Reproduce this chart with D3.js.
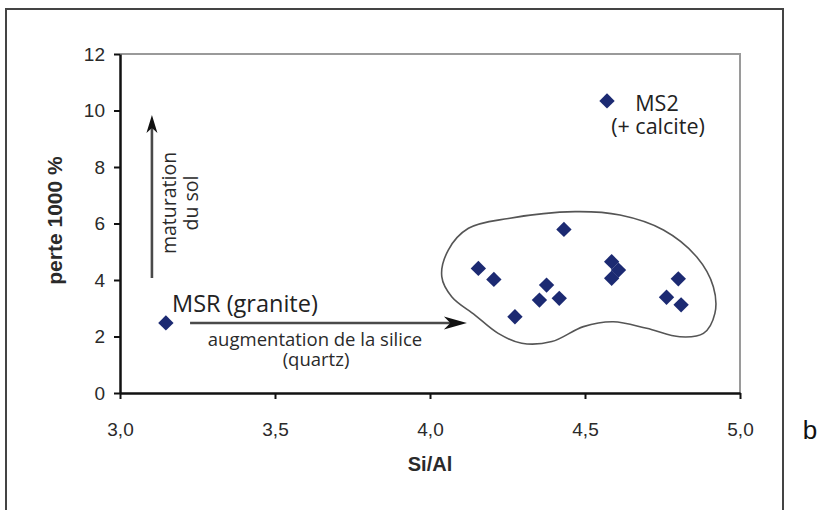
<!DOCTYPE html>
<html>
<head>
<meta charset="utf-8">
<script src="https://cdn.jsdelivr.net/npm/d3@7"></script>
<style>
  html, body { margin: 0; padding: 0; background: #fff; }
  svg { display: block; }
</style>
</head>
<body>
<svg id="chart" width="820" height="510"></svg>
<script>
// Si/Al ratio vs. loss on ignition (perte 1000 %)
const xTicks = [3.0, 3.5, 4.0, 4.5, 5.0];
const yTicks = [0, 2, 4, 6, 8, 10, 12];

// Reference granite sample and calcite-bearing sample
const msr = [{ x: 3.148, y: 2.48 }];
const ms2 = [{ x: 4.571, y: 10.34 }];

// Soil samples grouped in the silica-enriched cluster
const clusterSiAl = [4.156, 4.206, 4.432, 4.376, 4.353, 4.417, 4.274, 4.586, 4.608, 4.586, 4.801, 4.763, 4.810];
const clusterLoss = [4.41, 4.02, 5.79, 3.82, 3.29, 3.35, 2.70, 4.65, 4.35, 4.06, 4.04, 3.39, 3.12];

// Closed envelope drawn around the cluster (Si/Al, perte)
const envelopeSiAl = [4.038, 4.059, 4.124, 4.253, 4.468, 4.613, 4.753, 4.860, 4.914, 4.919, 4.882, 4.806, 4.699, 4.591, 4.495, 4.393, 4.296, 4.220, 4.145, 4.070];
const envelopeLoss = [4.12, 5.06, 5.83, 6.18, 6.42, 6.30, 5.77, 4.82, 3.76, 2.82, 2.11, 1.99, 2.29, 2.52, 2.35, 1.82, 1.76, 2.11, 2.76, 3.41];

const svg = d3.select("#chart");

const x = d3.scaleLinear().domain([3.0, 5.0]).range([120, 740]);
const y = d3.scaleLinear().domain([0, 12]).range([393, 54]);

const fmt = d => d3.format(".1f")(d).replace(".", ",");

// outer figure frame (open at the bottom)
svg.append("path")
  .attr("d", "M6,515 V9 H783 V515")
  .attr("fill", "none")
  .attr("stroke", "#444")
  .attr("stroke-width", 2);

// panel letter
svg.append("text")
  .attr("x", 810).attr("y", 439)
  .attr("text-anchor", "middle")
  .attr("font-family", "Liberation Sans, Arial, sans-serif")
  .attr("font-size", 26)
  .attr("fill", "#111")
  .text("b");

// plot area top/right border
svg.append("path")
  .attr("d", `M${x(3.0)},${y(12)} H${x(5.0)} V${y(0)}`)
  .attr("fill", "none")
  .attr("stroke", "#9a9a9a")
  .attr("stroke-width", 2);

// axes
const xAxis = d3.axisBottom(x).tickValues(xTicks).tickFormat(fmt).tickSize(6).tickSizeOuter(0).tickPadding(24);
const yAxis = d3.axisLeft(y).tickValues(yTicks).tickFormat(d3.format("d")).tickSize(6).tickSizeOuter(0).tickPadding(9);

const gx = svg.append("g").attr("transform", `translate(0,${y(0)})`).call(xAxis);
const gy = svg.append("g").attr("transform", `translate(${x(3.0)},0)`).call(yAxis);

[gx, gy].forEach(g => {
  g.select(".domain").attr("stroke", "#111").attr("stroke-width", 2.5);
  g.selectAll(".tick line").attr("stroke", "#111").attr("stroke-width", 2);
  g.selectAll(".tick text")
    .attr("font-family", "Liberation Sans, Arial, sans-serif")
    .attr("font-size", 19)
    .attr("fill", "#2a2a2a");
});

// axis titles
svg.append("text")
  .attr("x", x(4.0)).attr("y", 471)
  .attr("text-anchor", "middle")
  .attr("font-family", "Liberation Sans, Arial, sans-serif")
  .attr("font-weight", "bold")
  .attr("font-size", 20)
  .attr("fill", "#2a2a2a")
  .text("Si/Al");

svg.append("text")
  .attr("transform", `translate(62,${y(6) - 3}) rotate(-90)`)
  .attr("text-anchor", "middle")
  .attr("font-family", "Liberation Sans, Arial, sans-serif")
  .attr("font-weight", "bold")
  .attr("font-size", 21)
  .attr("fill", "#2a2a2a")
  .text("perte 1000 %");

// cluster envelope
const envelope = envelopeSiAl.map((v, i) => [x(v), y(envelopeLoss[i])]);
svg.append("path")
  .attr("d", d3.line().curve(d3.curveCatmullRomClosed.alpha(0.5))(envelope))
  .attr("fill", "none")
  .attr("stroke", "#555")
  .attr("stroke-width", 1.6);

// stealth-style arrowhead pointing along +x, tip at origin
function arrowHead(len, half) {
  return `M0,0 L${-len},${-half} L${-len * 0.72},0 L${-len},${half} Z`;
}

const annoFont = "Open Sans, Noto Sans, sans-serif";

// multi-line label as a single text element
function multiline(cx, baseline, lines, size, lineGap, fill) {
  const t = svg.append("text")
    .attr("text-anchor", "middle")
    .attr("font-family", annoFont)
    .attr("font-size", size)
    .attr("fill", fill);
  lines.forEach((s, i) => {
    t.append("tspan")
      .attr("x", cx[i])
      .attr("y", baseline + i * lineGap)
      .text(s);
  });
  return t;
}

// horizontal arrow: silica increase
const hx0 = x(3.226), hx1 = x(4.119), hy = y(2.48);
svg.append("line")
  .attr("x1", hx0).attr("x2", hx1 - 12)
  .attr("y1", hy).attr("y2", hy)
  .attr("stroke", "#4a4a4a").attr("stroke-width", 2.6);
svg.append("path")
  .attr("d", arrowHead(23, 6.5))
  .attr("transform", `translate(${hx1},${hy})`)
  .attr("fill", "#111");

multiline([315, 316], 346, ["augmentation de la silice", "(quartz)"], 18.5, 20, "#2a2a2a");

// vertical arrow: soil maturation
const vx = x(3.103), vy0 = y(4.07), vy1 = y(9.84);
svg.append("line")
  .attr("x1", vx).attr("x2", vx)
  .attr("y1", vy0).attr("y2", vy1 + 10)
  .attr("stroke", "#4a4a4a").attr("stroke-width", 2.6);
svg.append("path")
  .attr("d", arrowHead(18, 5.5))
  .attr("transform", `translate(${vx},${vy1}) rotate(-90)`)
  .attr("fill", "#111");

svg.append("text")
  .attr("transform", `translate(176,203) rotate(-90)`)
  .attr("text-anchor", "middle")
  .attr("font-family", annoFont).attr("font-size", 19.5)
  .attr("fill", "#2a2a2a")
  .text("maturation");
svg.append("text")
  .attr("transform", `translate(198,203) rotate(-90)`)
  .attr("text-anchor", "middle")
  .attr("font-family", annoFont).attr("font-size", 19.5)
  .attr("fill", "#2a2a2a")
  .text("du sol");

// sample labels
svg.append("text")
  .attr("x", 172).attr("y", 312)
  .attr("font-family", annoFont).attr("font-size", 23.5)
  .attr("fill", "#222")
  .text("MSR (granite)");

multiline([657, 658], 111, ["MS2", "(+ calcite)"], 21.5, 23, "#222");

// diamond markers
const cluster = clusterSiAl.map((v, i) => ({ x: v, y: clusterLoss[i] }));
const allPoints = msr.concat(ms2, cluster);
const diamond = d3.symbol().type(d3.symbolSquare).size(118);

svg.append("g").selectAll("path")
  .data(allPoints)
  .join("path")
  .attr("d", diamond)
  .attr("transform", d => `translate(${x(d.x)},${y(d.y)}) rotate(45)`)
  .attr("fill", "#1c2a72");
</script>
</body>
</html>
